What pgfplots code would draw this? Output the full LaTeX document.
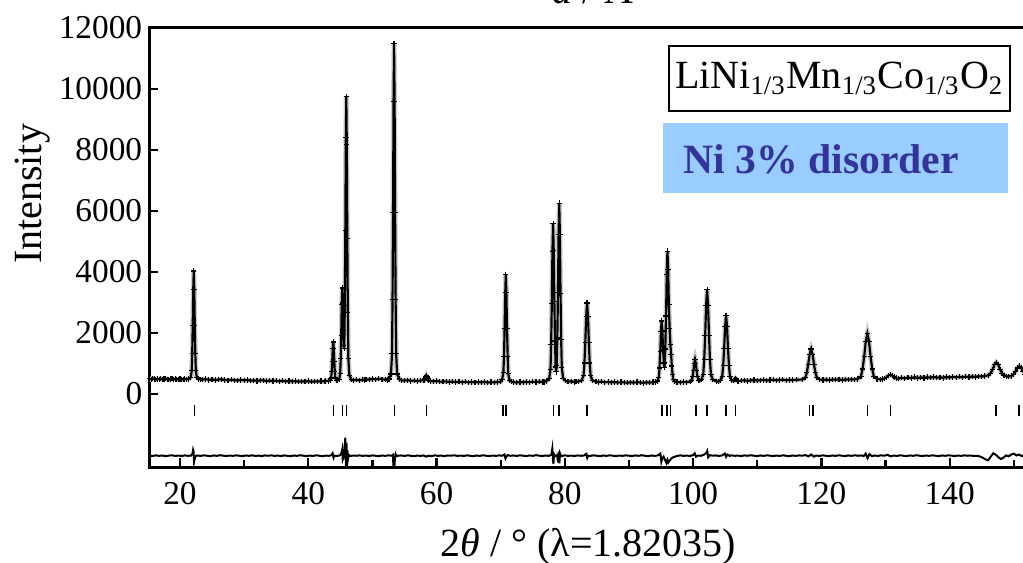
\documentclass[border=0pt]{standalone}
\usepackage{fontspec}
\setmainfont{Liberation Serif}
\usepackage{pgfplots}
\pgfplotsset{compat=1.18}
\usepackage{pgfplotstable}
\definecolor{boxblue}{RGB}{153,204,255}
\definecolor{txtblue}{RGB}{51,51,153}

\pgfplotstableread{
x y
15.25 495
15.5 478
15.75 502
16.0 486
16.25 470
16.5 492
16.75 481
17.0 498
17.25 474
17.5 489
17.75 503
18.0 478
18.25 466
18.5 485
18.75 497
19.0 472
19.25 488
19.5 476
19.75 465
20.0 490
20.25 481
20.5 470
20.75 486
21.0 474
21.35 488
21.67 541
21.83 755
21.91 1324
21.99 2250
22.07 3425
22.15 4030
22.23 3425
22.31 2250
22.39 1324
22.47 755
22.63 541
22.95 488
23.25 462
23.5 468
24.0 482
24.5 459
25.0 474
25.5 451
26.0 466
26.5 479
27.0 455
27.5 443
28.0 462
28.5 448
29.0 436
29.5 455
30.0 441
30.5 452
31.0 430
31.5 444
32.0 426
32.5 438
33.0 447
33.5 421
34.0 433
34.5 418
35.0 430
35.5 412
36.0 427
36.5 409
37.0 421
37.5 404
38.0 416
38.5 398
39.0 412
39.5 401
40.0 418
40.5 396
41.0 410
41.5 402
42.0 417
42.5 408
42.75 421
43.10 426
43.42 446
43.58 522
43.66 727
43.74 1060
43.82 1482
43.90 1700
43.98 1482
44.06 1060
44.14 727
44.22 522
44.38 446
44.60 455
44.82 480
44.98 660
45.06 1150
45.14 1925
45.22 2920
45.30 3470
45.38 2980
45.46 2090
45.54 1593
45.62 1493
45.70 2897
45.78 5370
45.86 8420
45.93 9754
46.01 8167
46.09 5087
46.17 2660
46.25 1167
46.41 607
46.73 467
47.0 448
47.5 462
48.0 441
48.5 470
48.75 456
49.0 478
49.5 466
50.0 489
50.5 472
51.0 494
51.5 478
52.0 468
52.3 452
52.58 485
52.90 651
53.06 1314
53.14 3082
53.22 5955
53.30 9602
53.38 11480
53.46 9602
53.54 5955
53.62 3082
53.70 1314
53.86 651
54.18 485
54.5 446
55.0 431
55.5 448
56.0 425
56.5 437
57.0 419
57.5 433
58.05 450
58.2 500
58.3 560
58.4 600
58.5 555
58.6 495
58.75 441
59.0 420
59.5 408
60.0 423
60.5 402
61.0 395
61.5 410
62.0 389
62.5 403
63.0 386
63.5 397
64.0 381
64.5 394
65.0 376
65.5 390
66.0 372
66.5 386
67.0 377
67.5 392
68.0 369
68.5 384
69.0 375
69.5 389
70.00 398
70.23 480
70.42 690
70.52 1230
70.61 2150
70.71 3318
70.80 3920
70.89 3318
70.99 2150
71.09 1230
71.18 663
71.37 451
71.75 398
72.0 383
72.5 371
73.0 388
73.5 376
74.0 393
74.5 380
75.0 397
75.5 384
76.0 401
76.5 389
76.75 392
77.17 426
77.57 503
77.77 810
77.87 1631
77.97 2965
78.07 4680
78.17 5580
78.27 4700
78.37 3025
78.47 1731
78.57 880
78.65 720
78.73 930
78.83 1830
78.93 3320
79.03 5220
79.13 6256
79.23 5214
79.33 3300
79.43 1792
79.53 864
79.73 516
80.13 429
80.5 398
81.0 412
81.5 391
81.75 397
82.09 403
82.64 442
82.92 597
83.06 1012
83.19 1685
83.33 2540
83.47 2980
83.61 2540
83.75 1685
83.88 1012
84.02 597
84.30 442
84.85 403
85.25 386
85.75 399
86.25 378
86.75 392
87.25 371
87.75 387
88.25 368
88.75 383
89.25 374
89.75 362
90.25 380
90.75 367
91.25 385
91.75 372
92.25 360
92.75 379
93.25 366
93.75 384
94.15 392
94.43 420
94.65 537
94.76 850
94.88 1380
94.99 2050
95.10 2390
95.21 2060
95.32 1440
95.44 1010
95.55 860
95.66 1473
95.78 2552
95.89 3927
96.00 4682
96.11 4089
96.22 2918
96.34 2133
96.46 1618
96.57 1296
96.68 915
96.80 636
96.91 472
97.13 400
97.5 388
98.0 376
98.5 393
99.0 381
99.55 405
99.80 449
99.925 568
100.05 760
100.175 1004
100.30 1130
100.425 1004
100.55 760
100.675 568
100.80 449
101.05 435
101.28 460
101.58 641
101.73 1124
101.88 1908
102.03 2903
102.18 3416
102.33 2903
102.48 1908
102.63 1124
102.78 641
103.08 460
103.68 415
103.95 398
104.24 443
104.54 574
104.69 922
104.84 1487
104.99 2204
105.14 2574
105.29 2204
105.44 1487
105.59 922
105.74 574
106.04 443
106.3 428
106.45 468
106.6 505
106.75 466
107.0 418
107.5 430
108.0 446
108.5 425
109.0 441
109.5 452
110.0 431
110.5 447
111.0 458
111.5 436
112.0 451
112.5 462
113.0 442
113.5 455
114.0 467
114.5 444
115.0 459
115.5 450
116.15 462
117.05 470
117.50 530
117.725 695
117.95 965
118.175 1300
118.40 1470
118.625 1300
118.85 965
119.075 695
119.30 530
119.75 470
120.25 458
120.75 467
121.25 451
121.75 472
122.25 460
122.75 478
123.25 456
123.75 475
124.25 464
124.67 478
125.2 469
125.67 490
126.17 572
126.42 817
126.67 1215
126.92 1720
127.17 1980
127.42 1720
127.67 1215
127.92 817
128.17 572
128.67 490
129.2 472
129.55 488
129.85 505
130.15 540
130.45 600
130.75 630
131.05 600
131.35 552
131.65 515
132.0 496
132.5 528
133.0 505
133.5 537
134.0 516
134.5 548
135.0 522
135.5 541
136.0 518
136.5 549
137.0 527
137.5 552
138.0 530
138.5 545
139.0 524
139.5 551
140.0 533
140.5 556
141.0 538
141.5 560
142.0 541
142.5 566
143.0 549
143.5 571
144.0 555
144.5 578
145.0 566
145.47 585
146.07 612
146.37 673
146.67 795
146.97 950
147.27 1030
147.57 950
147.87 795
148.17 673
148.47 610
148.9 575
149.2 558
149.65 590
149.95 644
150.25 735
150.55 850
150.85 910
151.15 850
151.45 735
151.75 644
152.05 588
152.5 570
}\obsdata

\pgfplotstableread{
x y
15.25 -2025
15.75 -2040
16.25 -2018
16.75 -2035
17.25 -2022
17.75 -2046
18.25 -2027
18.75 -2015
19.25 -2038
19.75 -2024
20.25 -2042
20.75 -2019
21.25 -2033
21.75 -2026
21.95 -1960
22.05 -1840
22.12 -1900
22.20 -2230
22.28 -2150
22.40 -2040
22.75 -2022
23.25 -2037
23.75 -2016
24.25 -2031
24.75 -2044
25.25 -2020
25.75 -2035
26.25 -2012
26.75 -2029
27.25 -2041
27.75 -2023
28.25 -2036
28.75 -2018
29.25 -2030
29.75 -2045
30.25 -2021
30.75 -2034
31.25 -2017
31.75 -2039
32.25 -2026
32.75 -2043
33.25 -2020
33.75 -2032
34.25 -2015
34.75 -2037
35.25 -2024
35.75 -2040
36.25 -2019
36.75 -2033
37.25 -2046
37.75 -2022
38.25 -2035
38.75 -2013
39.25 -2030
39.75 -2042
40.25 -2025
40.75 -2038
41.25 -2016
41.75 -2031
42.25 -2044
42.75 -2027
43.25 -2034
43.60 -2010
43.80 -1950
43.95 -2100
44.10 -2030
44.50 -2040
44.90 -2020
45.10 -1980
45.22 -1900
45.30 -1820
45.38 -2150
45.50 -2080
45.62 -1900
45.70 -1700
45.78 -1440
45.84 -2150
45.90 -2400
45.96 -1600
46.02 -2390
46.10 -1850
46.18 -2150
46.30 -2000
46.50 -2040
47.0 -2025
47.5 -2032
48.0 -2018
48.5 -2036
49.0 -2023
49.5 -2040
50.0 -2019
50.5 -2031
51.0 -2045
51.5 -2022
52.0 -2035
52.5 -2017
53.0 -2030
53.20 -2000
53.28 -2380
53.36 -2150
53.44 -2360
53.52 -2080
53.62 -1980
53.75 -2050
54.0 -2030
54.5 -2021
55.0 -2038
55.5 -2016
56.0 -2033
56.5 -2044
57.0 -2024
57.5 -2036
58.0 -2020
58.4 -2060
58.75 -2028
59.25 -2041
59.75 -2018
60.25 -2034
60.75 -2026
61.25 -2043
61.75 -2021
62.25 -2030
62.75 -2015
63.25 -2037
63.75 -2024
64.25 -2039
64.75 -2017
65.25 -2032
65.75 -2045
66.25 -2022
66.75 -2036
67.25 -2014
67.75 -2031
68.25 -2042
68.75 -2023
69.25 -2035
69.75 -2019
70.25 -2030
70.60 -1990
70.75 -2120
70.90 -2060
71.10 -2010
71.5 -2033
72.0 -2021
72.5 -2038
73.0 -2016
73.5 -2029
74.0 -2043
74.5 -2020
75.0 -2034
75.5 -2012
76.0 -2028
76.5 -2040
77.0 -2022
77.5 -2035
77.90 -2000
78.05 -1800
78.15 -2150
78.22 -2300
78.32 -1980
78.50 -2040
78.80 -2010
78.95 -2250
79.05 -1900
79.15 -2280
79.25 -1960
79.40 -2050
79.70 -2030
80.0 -2018
80.5 -2037
81.0 -2025
81.5 -2041
82.0 -2019
82.5 -2033
83.0 -2022
83.35 -1970
83.50 -2100
83.65 -2030
84.0 -2035
84.5 -2017
85.0 -2031
85.5 -2044
86.0 -2021
86.5 -2036
87.0 -2015
87.5 -2030
88.0 -2042
88.5 -2023
89.0 -2035
89.5 -2018
90.0 -2029
90.5 -2040
91.0 -2020
91.5 -2034
92.0 -2013
92.5 -2031
93.0 -2045
93.5 -2022
94.0 -2036
94.5 -2020
94.90 -1960
95.05 -2230
95.20 -2120
95.40 -2060
95.65 -2180
95.85 -2270
96.00 -2160
96.15 -2250
96.35 -2190
96.60 -2120
96.90 -2080
97.30 -2050
97.70 -2030
98.0 -2018
98.5 -2035
99.0 -2024
99.5 -2039
100.0 -2010
100.25 -1950
100.45 -2060
100.75 -2025
101.25 -2032
101.75 -1990
102.05 -1940
102.20 -1875
102.35 -2080
102.60 -2010
103.0 -2030
103.5 -2020
104.0 -2037
104.5 -2022
104.95 -1960
105.15 -2070
105.35 -1990
105.70 -2035
106.0 -2018
106.5 -2033
107.0 -2026
107.5 -2041
108.0 -2019
108.5 -2032
109.0 -2014
109.5 -2030
110.0 -2043
110.5 -2021
111.0 -2036
111.5 -2017
112.0 -2029
112.5 -2042
113.0 -2024
113.5 -2037
114.0 -2016
114.5 -2031
115.0 -2044
115.5 -2022
116.0 -2035
116.5 -2019
117.0 -2030
117.5 -2010
118.0 -2050
118.4 -1990
118.8 -2060
119.2 -2025
119.7 -2036
120.2 -2018
120.7 -2031
121.2 -2043
121.7 -2022
122.2 -2035
122.7 -2016
123.2 -2029
123.7 -2041
124.2 -2021
124.7 -2034
125.2 -2015
125.7 -2032
126.2 -2020
126.6 -2040
126.9 -1960
127.2 -2110
127.5 -1980
127.9 -2045
128.3 -2022
128.8 -2036
129.3 -2018
129.8 -2030
130.3 -2000
130.8 -2050
131.3 -2024
131.8 -2037
132.3 -2016
132.8 -2031
133.3 -2043
133.8 -2020
134.3 -2034
134.8 -2013
135.3 -2029
135.8 -2040
136.3 -2022
136.8 -2035
137.3 -2017
137.8 -2030
138.3 -2044
138.8 -2021
139.3 -2033
139.8 -2016
140.3 -2028
140.8 -2041
141.3 -2023
141.8 -2036
142.3 -2018
142.8 -2031
143.3 -2024
143.8 -2040
144.3 -2030
144.8 -2060
145.2 -2100
145.6 -2150
146.0 -2180
146.4 -2060
146.8 -1950
147.2 -2000
147.6 -2080
148.0 -2140
148.4 -2090
148.8 -2020
149.2 -2050
149.6 -1990
150.0 -1960
150.4 -2020
150.8 -1990
151.2 -2040
151.6 -2010
152.0 -2025
152.5 -2030
}\diffdata

\pgfplotstableread{
x y
22.26 -540
43.93 -540
45.33 -540
45.96 -540
53.44 -540
58.43 -540
70.32 -540
70.85 -540
78.22 -540
79.11 -540
83.47 -540
95.17 -540
95.95 -540
96.46 -540
100.41 -540
102.18 -540
105.14 -540
106.59 -540
118.13 -540
118.64 -540
127.17 -540
130.75 -540
147.27 -540
150.85 -540
}\braggdata

\begin{document}
\begin{tikzpicture}
\begin{axis}[
  scale only axis, width=264.1pt, height=131.7pt,
  at={(0,0)}, anchor=south west,
  xmin=15.25, xmax=152.5, ymin=-2400, ymax=12000,
  xtick={20,40,...,140}, minor xtick={30,50,...,150},
  ytick={0,2000,...,12000},
  tick pos=left, tick align=inside,
  major tick length=2.6pt, minor tick length=2.2pt,
  axis line style={line width=0.9pt},
  tick style={line width=0.7pt, black},
  tick label style={font=\fontsize{10}{12}\selectfont},
  /pgf/number format/assume math mode=true,
  /pgf/number format/1000 sep={},
  scaled ticks=false,
  yticklabel style={inner xsep=2pt},
  xticklabel style={yshift=-1pt},
]
\addplot[gray!40, line width=1.5pt] table {\obsdata};
\addplot[black, line width=0.65pt, mark=+, mark size=0.8pt, mark options={line width=0.35pt}] table {\obsdata};
\addplot[black, line width=0.6pt] table {\diffdata};
\addplot[only marks, mark=|, mark size=1.65pt, mark options={line width=0.5pt}] table {\braggdata};
\end{axis}
\node[anchor=base, font=\fontsize{12}{14}\selectfont] at (131.7pt,-26.7pt) {2\textit{θ} / ° (λ=1.82035)};
\node[rotate=90, font=\fontsize{12}{14}\selectfont] at (-35pt,81.9pt) {Intensity};
\node[anchor=base, font=\fontsize{12}{14}\selectfont] at (133pt,138.9pt) {\textit{d} / Å};
\node[draw, line width=0.7pt, minimum width=102.3pt, minimum height=19.5pt, inner sep=0pt, font=\fontsize{12}{14}\selectfont] at (207pt,116.55pt) {LiNi\textsubscript{1/3}Mn\textsubscript{1/3}Co\textsubscript{1/3}O\textsubscript{2}};
\fill[boxblue] (154.05pt,82.2pt) rectangle (257.55pt,103.2pt);
\node[anchor=west, font=\fontsize{12.5}{15}\selectfont\bfseries, text=txtblue, inner sep=0pt] at (160pt,92.4pt) {Ni 3\% disorder};
\pgfresetboundingbox
\path (-44.85pt,-28.5pt) rectangle (262.05pt,140.1pt);
\end{tikzpicture}
\end{document}
